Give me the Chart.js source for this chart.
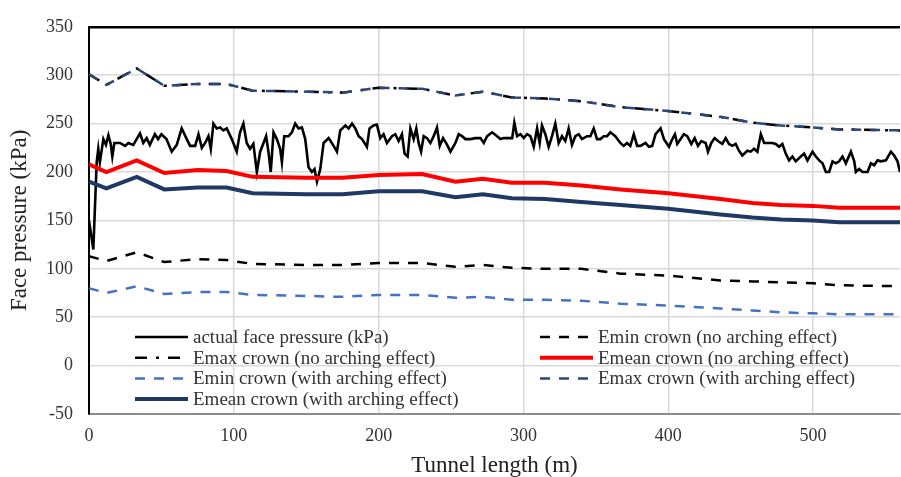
<!DOCTYPE html>
<html>
<head>
<meta charset="utf-8">
<script src="https://cdn.jsdelivr.net/npm/chart.js@4/dist/chart.umd.min.js"></script>
<style>
  html, body { margin: 0; padding: 0; background: #fff; }
  #wrap { width: 901px; height: 477px; }
</style>
</head>
<body>
<div id="wrap"><canvas id="c" width="901" height="477"></canvas></div>
<script>
// ---- data ----
const seriesLabels = [
  'actual face pressure (kPa)',
  'Emin crown (no arching effect)',
  'Emax crown (no arching effect)',
  'Emean crown (no arching effect)',
  'Emin crown (with arching effect)',
  'Emax crown (with arching effect)',
  'Emean crown (with arching effect)'
];
const xTitle = 'Tunnel length (m)';
const yTitle = 'Face pressure (kPa)';

const actualX = [0,1,3,5.3,6.4,7.5,9.9,11.7,13.4,15,16.1,17.5,21.4,24.9,27.2,30.6,35.2,37.5,39.8,42,45.5,47.7,50,53.5,57.1,60.6,64,67.5,69.8,73.3,75.6,77.9,80.2,82.5,84.1,85.9,88.2,90.5,92.8,95.1,98.6,102,104.3,106.6,108.9,111.2,113.5,115.9,118.2,120.5,122.3,123.9,125.5,127.4,129.7,132,133.2,134.8,137.8,140.1,142.4,144.7,147,149.3,151.6,153.9,155.7,157.4,159.7,162,165.5,168.9,171.2,173.5,177,179.3,181.6,183.9,186.2,188.5,191.9,193.7,196.5,198.8,201.1,203.4,205.7,209.2,211.5,213.8,216.1,217.9,220,221.9,224.2,226,227.6,229.3,231.1,233.4,235.7,238,240.3,242.2,244.5,247.3,249.6,253,255.3,257.6,259.9,263.4,266.8,270.3,272.6,274.9,278.4,281.8,284.1,286.4,292.2,293.7,295.6,297.9,300.2,302.5,304.8,307.1,309.4,311.2,312.8,315.1,317.4,319.7,322,324.3,326.6,328.9,331.2,333.5,335.8,338.1,340.4,343.9,346.2,348.5,350.8,353.1,355.4,357.7,360,363.4,366.9,369.2,371.5,373.8,376.2,378.5,380.8,384.3,386.6,388.9,391.2,394.7,397,400.5,402.8,404.6,406.2,408.5,410.8,413.1,415.9,418.2,420.5,422.8,425.8,427.4,429.7,432,434.3,437.3,439.6,441.9,444.2,446.5,448.8,451.1,454.6,456.9,459.2,461.5,463.9,466.2,468.5,471.9,474.2,476.5,478.8,481.1,483.4,485.7,488,491.5,493.8,496.1,499.6,501.9,504.2,506.5,508.8,511.1,513.4,515.7,518,520.3,522.6,526.1,528.4,529.5,531.8,534.1,537.6,539.9,542.2,544.5,546.8,550.3,553.7,556,558.3,560];
const actualY = [150,140,120,210,224,210,234,228,238,229,216,230,230,227,230,228,240,230,235,228,239,234,239,234,221,228,245,234,227,227,239,225,230,237,224,250,245,246,243,245,234,221,241,250,230,224,229,200,221,230,237,221,200,241,234,224,210,237,237,241,250,245,246,234,205,200,203,190,203,230,235,227,221,243,248,245,250,245,237,234,226,245,248,249,235,239,230,237,239,232,239,219,216,245,234,245,230,221,237,235,230,237,246,227,235,228,221,230,239,237,234,234,235,235,230,237,241,237,234,235,235,251,237,239,235,239,237,226,245,230,248,239,226,237,250,230,237,232,245,228,237,239,234,237,237,245,234,234,237,237,241,237,230,227,230,227,239,227,227,230,226,227,239,245,234,226,234,239,229,234,239,237,229,235,227,232,230,221,230,235,232,229,235,229,227,229,222,217,222,221,224,221,239,230,230,230,229,226,229,219,212,216,211,216,219,212,221,216,212,209,200,200,211,209,211,216,209,221,211,200,203,200,200,209,207,212,211,212,221,217,211,200];

const eX         = [0, 12, 33, 52, 75, 95, 113, 150, 175, 200, 230, 253, 272, 292, 315, 340, 367, 400, 436, 458, 478, 500, 518, 560];
const eminNo     = [113,108,117,107,110,109,105,104,104,106,106,102,104,101,100,100, 95, 93, 88, 87, 86, 85, 83, 82];
const emaxNo     = [301,290,307,289,291,291,284,283,282,287,286,279,283,277,276,273,267,263,257,251,248,246,244,243];
const emeanNo    = [208,200,212,199,202,201,195,194,194,197,198,190,193,189,189,186,182,178,172,168,166,165,163,163];
const eminWith   = [ 80, 75, 82, 74, 76, 76, 73, 72, 71, 73, 73, 70, 71, 68, 68, 67, 64, 62, 59, 57, 55, 54, 53, 53];
const emaxWith   = [301,290,307,289,291,291,284,283,282,287,286,279,283,277,276,273,267,263,257,251,248,246,244,243];
const emeanWith  = [190,183,195,182,184,184,178,177,177,180,180,174,177,173,172,169,166,162,156,153,151,150,148,148];

const xTicks = [0, 100, 200, 300, 400, 500];
const yTicks = [-50, 0, 50, 100, 150, 200, 250, 300, 350];

// ---- build ----
const pts = (xs, ys) => xs.map((x, i) => ({ x: x, y: ys[i] }));
const FONT = '"Liberation Serif", "Times New Roman", serif';

const styles = [
  { color: '#000000', width: 2.6, dash: [] },
  { color: '#000000', width: 2.5, dash: [10, 9] },
  { color: '#000000', width: 2.5, dash: [12, 9, 3, 9] },
  { color: '#ff0000', width: 4, dash: [] },
  { color: '#4472c4', width: 2.5, dash: [10, 9] },
  { color: '#2b4677', width: 2.5, dash: [10, 9] },
  { color: '#203864', width: 4, dash: [] }
];
const valueSets = [
  pts(actualX, actualY), pts(eX, eminNo), pts(eX, emaxNo), pts(eX, emeanNo),
  pts(eX, eminWith), pts(eX, emaxWith), pts(eX, emeanWith)
];

const datasets = seriesLabels.map((lab, i) => ({
  label: lab,
  data: valueSets[i],
  borderColor: styles[i].color,
  borderWidth: styles[i].width,
  borderDash: styles[i].dash,
  pointRadius: 0,
  tension: 0,
  fill: false,
  order: seriesLabels.length - i
}));

const inlineLegend = {
  id: 'inlineLegend',
  afterDraw(chart) {
    const { ctx, chartArea } = chart;
    const ds = chart.data.datasets;
    ctx.save();
    ctx.font = '19px ' + FONT;
    ctx.fillStyle = '#333333';
    ctx.textBaseline = 'middle';
    ctx.textAlign = 'left';
    ds.forEach((d, i) => {
      const col = i % 2, row = Math.floor(i / 2);
      const x0 = chartArea.left + (col ? 451 : 46);
      const y = chartArea.bottom - 77 + row * 20.7;
      ctx.strokeStyle = d.borderColor;
      ctx.lineWidth = d.borderWidth;
      ctx.setLineDash(d.borderDash || []);
      ctx.beginPath();
      ctx.moveTo(x0, y);
      ctx.lineTo(x0 + 53, y);
      ctx.stroke();
      ctx.setLineDash([]);
      ctx.fillText(d.label, x0 + 58, y + 1);
    });
    ctx.restore();
  }
};

new Chart(document.getElementById('c'), {
  type: 'line',
  data: { datasets: datasets },
  options: {
    responsive: false,
    animation: false,
    devicePixelRatio: 1,
    layout: { padding: { top: 23, right: 1, left: 0, bottom: 0 } },
    plugins: { legend: { display: false }, tooltip: { enabled: false } },
    scales: {
      x: {
        type: 'linear',
        min: 0, max: 560,
        afterFit: (s) => { s.height = 63; },
        afterBuildTicks: (s) => { s.ticks = xTicks.map(v => ({ value: v })); },
        ticks: { font: { family: FONT, size: 18 }, color: '#333333', padding: 11, maxRotation: 0 },
        grid: { color: '#d9d9d9', lineWidth: 1.5, drawTicks: false },
        border: { color: '#8c8c8c', width: 2 },
        title: { display: true, text: xTitle, font: { family: FONT, size: 23, lineHeight: 1.0 }, color: '#222222', padding: { top: 0, bottom: 0 } }
      },
      y: {
        type: 'linear',
        min: -50, max: 350,
        afterFit: (s) => { s.width = 89; },
        afterBuildTicks: (s) => { s.ticks = yTicks.map(v => ({ value: v })); },
        ticks: { font: { family: FONT, size: 18 }, color: '#333333', padding: 16 },
        grid: {
          color: (c) => (c.tick && c.tick.value === 350 ? '#000000' : '#d9d9d9'),
          lineWidth: (c) => (c.tick && c.tick.value === 350 ? 2.5 : 1.5),
          drawTicks: false
        },
        border: { color: '#000000', width: 2 },
        title: { display: true, text: yTitle, font: { family: FONT, size: 23, lineHeight: 1.2 }, color: '#222222', padding: { top: 6, bottom: 0 } }
      }
    }
  },
  plugins: [inlineLegend]
});
</script>
</body>
</html>
